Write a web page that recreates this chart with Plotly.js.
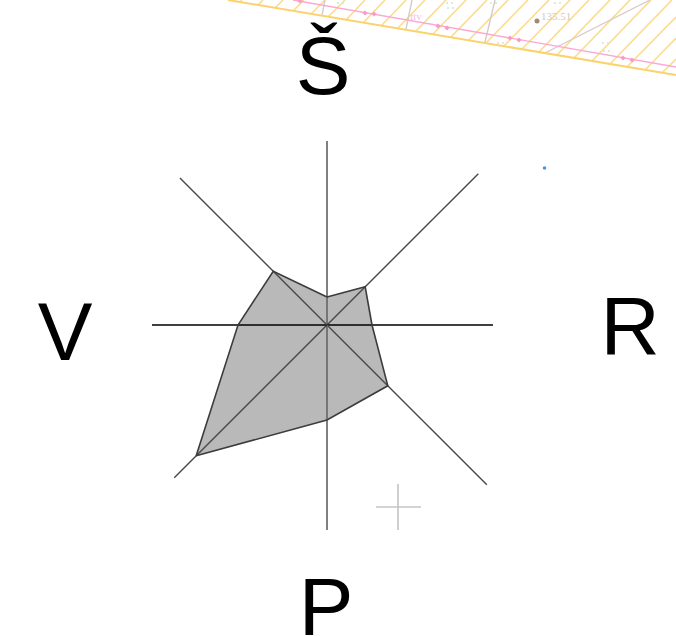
<!DOCTYPE html>
<html><head><meta charset="utf-8">
<script src="https://cdn.plot.ly/plotly-3.0.1.min.js"></script>
<style>html,body{margin:0;padding:0;background:#fff}#c{width:676px;height:636px}</style>
</head><body><div id="c"></div>
<script>
// Radar values
const directions = [0, 45, 90, 135, 180, 225, 270, 315];
const values = [28, 54, 45, 86, 95, 185, 89, 76];
const spokeLengths = [184, 214, 166, 226, 205, 216, 175, 208];
const spokeColors = ['#6a6a6a', '#484848', '#000000', '#484848', '#6a6a6a', '#484848', '#000000', '#484848'];
const spokeWidths = [1.7, 1.4, 1.3, 1.4, 1.7, 1.4, 1.3, 1.4];

// Compass labels
const labelText = ['Š', 'R', 'P', 'V'];
const labelX = [323, 630, 326, 65];
const labelY = [73, 333, 614, 339];

// Background map fragment
const borderX = [228, 676];
const borderY = [0, 75];
const pinkX = [293, 676];
const pinkY = [0, 67];
const hatchX = [240,242,null,258,263,null,275,283,null,293,304,null,311,325,null,328,345,null,346,365,null,363,385,null,381,406,null,398,425,null,416,446,null,433,466,null,451,487,null,469,508,null,486,528,null,504,549,null,522,570,null,539,589,null,557,610,null,574,630,null,592,651,null,610,672,null,627,676,null,645,676,null,662,676];
const hatchY = [2,0,null,5,0,null,8,0,null,11,0,null,14,0,null,17,0,null,20,0,null,23,0,null,26,0,null,28,0,null,31,0,null,34,0,null,37,0,null,40,0,null,43,0,null,46,0,null,49,0,null,52,0,null,55,0,null,58,0,null,61,0,null,64,0,null,67,17,null,70,38,null,73,59];
const parcelX = [322,325,null,406,412,null,485,495,null,545,650];
const parcelY = [15,0,null,29,0,null,42,0,null,53,0];
const arrowX = [300,365,374,438,447,510,519,623,632];
const arrowY = [1,13,14,26,28,38,40,58,60];
const greenX = [338,343,448,453,447,452,498,503,491,496,603,608,604,609,555,560];
const greenY = [3,3,8,8,3,3,43,43,3,3,43,43,51,51,3,3];
const spotX = [537];
const spotY = [21];
const heightText = ['135.51'];
const heightX = [556];
const heightY = [17];
const noteText = ['ttv'];
const noteX = [416];
const noteY = [17];
const dotX = [544.5];
const dotY = [168];
const crossX = [376,421,null,398,398];
const crossY = [507,507,null,484,530];

const traces = [];
traces.push({type:'scatter',mode:'lines',x:hatchX,y:hatchY,line:{color:'#fcdc8c',width:1.6},hoverinfo:'skip'});
traces.push({type:'scatter',mode:'lines',x:parcelX,y:parcelY,line:{color:'#d8cbc6',width:1.4},hoverinfo:'skip'});
traces.push({type:'scatter',mode:'lines',x:borderX,y:borderY,line:{color:'#fbd26e',width:2},hoverinfo:'skip'});
traces.push({type:'scatter',mode:'lines',x:pinkX,y:pinkY,line:{color:'#fba8d4',width:1.4},hoverinfo:'skip'});
traces.push({type:'scatter',mode:'markers',x:arrowX,y:arrowY,marker:{color:'#f79bcb',size:4,symbol:'diamond'},hoverinfo:'skip'});
traces.push({type:'scatter',mode:'markers',x:greenX,y:greenY,marker:{color:'#dcecd8',size:2,symbol:'square'},hoverinfo:'skip'});
traces.push({type:'scatter',mode:'markers',x:spotX,y:spotY,marker:{color:'#a58872',size:5},hoverinfo:'skip'});
traces.push({type:'scatter',mode:'text',x:heightX,y:heightY,text:heightText,textposition:'middle center',textfont:{family:'Liberation Serif',size:11,color:'#d6c9c1'},hoverinfo:'skip'});
traces.push({type:'scatter',mode:'text',x:noteX,y:noteY,text:noteText,textposition:'middle center',textfont:{family:'Liberation Serif',size:11,color:'#fbc0e0'},hoverinfo:'skip'});
traces.push({type:'scatter',mode:'markers',x:dotX,y:dotY,marker:{color:'#4a90e8',size:3.5},hoverinfo:'skip'});
traces.push({type:'scatter',mode:'lines',x:crossX,y:crossY,line:{color:'#c4c4c4',width:1.6},hoverinfo:'skip'});

traces.push({type:'scatterpolar',mode:'none',r:values.concat(values[0]),theta:directions.concat(directions[0]),fill:'toself',fillcolor:'#b9b9b9',hoverinfo:'skip'});
directions.forEach((d,i)=>{
  traces.push({type:'scatterpolar',mode:'lines',r:[0,spokeLengths[i]],theta:[d,d],line:{color:spokeColors[i],width:spokeWidths[i]},hoverinfo:'skip'});
});
traces.push({type:'scatterpolar',mode:'lines',r:values.concat(values[0]),theta:directions.concat(directions[0]),line:{color:'#3c3c3c',width:1.6},hoverinfo:'skip'});
traces.push({type:'scatter',mode:'text',x:labelX,y:labelY,text:labelText,textposition:'middle center',textfont:{family:'Liberation Sans',size:82,color:'#000000'},hoverinfo:'skip',cliponaxis:true});

const layout = {
  width:676,height:636,margin:{l:0,r:0,t:0,b:0},paper_bgcolor:'#ffffff',plot_bgcolor:'rgba(0,0,0,0)',showlegend:false,
  xaxis:{range:[0,676],visible:false,fixedrange:true,domain:[0,1]},
  yaxis:{range:[636,0],visible:false,fixedrange:true,domain:[0,1]},
  polar:{domain:{x:[17/676,637/676],y:[1/636,621/636]},bgcolor:'rgba(0,0,0,0)',
    radialaxis:{visible:false,range:[0,310]},
    angularaxis:{visible:false,direction:'clockwise',rotation:90,thetaunit:'degrees'}}
};
Plotly.newPlot('c',traces,layout,{displayModeBar:false,staticPlot:true});
</script></body></html>
